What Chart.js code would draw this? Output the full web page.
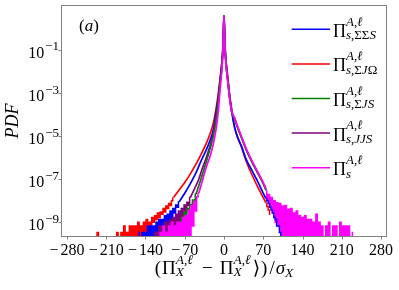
<!DOCTYPE html>
<html>
<head>
<meta charset="utf-8">
<script src="https://cdn.jsdelivr.net/npm/chart.js@4.4.1/dist/chart.umd.min.js"></script>
<style>
  html, body { margin: 0; padding: 0; background: #fff; }
</style>
</head>
<body>
<canvas id="pdfChart" width="399" height="290"></canvas>
<script>
// Core of each PDF as log10 values on a shared x grid.
const xCore = [-90, -80, -70, -60, -50, -45, -40, -31, -25, -19, -14, -10, -6.5, -4, -2, -1, 0,
               1, 2, 4, 6.5, 10, 14, 19, 25, 31, 40, 50, 60, 70, 75];

const logBlue = [null, -8.05, -7.65, -7.2, -6.7, -6.4, -6.1, -5.6, -5.2, -4.7, -3.9, -3.15, -2.3, -1.7, -0.95, -0.2, 0.6,
                 -0.2, -0.95, -1.7, -2.3, -3.15, -3.9, -4.6, -5.1, -5.45, -6.1, -6.6, -7.1, -7.65, -7.9];
const logRed = [-7.85, -7.5, -7.15, -6.75, -6.3, -6.05, -5.8, -5.3, -4.9, -4.4, -3.7, -3.0, -2.2, -1.6, -0.9, -0.2, 0.6,
                -0.2, -0.9, -1.6, -2.2, -3.05, -3.8, -4.6, -5.1, -5.5, -6.2, -6.8, -7.35, -7.85, -8.1];
const logGreen = [null, null, null, null, -7.7, -7.3, -6.9, -6.15, -5.6, -5.0, -4.25, -3.4, -2.45, -1.85, -1.0, -0.25, 0.6,
                  -0.25, -1.0, -1.75, -2.35, -3.2, -3.9, -4.2, -4.65, -5.05, -5.65, -6.2, -6.7, -7.2, -7.5];
const logPurple = [null, null, null, -7.85, -7.3, -7.0, -6.6, -5.95, -5.45, -4.85, -4.1, -3.3, -2.4, -1.8, -1.0, -0.25, 0.6,
                   -0.25, -1.0, -1.75, -2.35, -3.2, -3.9, -4.2, -4.65, -5.05, -5.65, -6.2, -6.7, -7.2, -7.5];
const logMagenta = [null, null, null, null, null, -7.65, -7.2, -6.4, -5.95, -5.35, -4.65, -3.8, -2.7, -2.0, -1.1, -0.3, 0.6,
                    -0.3, -1.05, -1.8, -2.4, -3.25, -3.85, -4.15, -4.6, -5.0, -5.6, -6.15, -6.65, -7.15, -7.45];

// Noisy tails: histogram counts per bin, 1 count = smallest non-empty bin.
const binWidth = 2.5;
const countUnit = 3.4e-10;
const redLeftStart = -230;
const redLeftCounts = [0,0,1,0,0,0,0,0,0,0, 0,0,0,0,0,0,1,0,0,1, 0,2,0,1,0,2,0,2,0,2,
                       0,3,0,2,0,3,1,4,1,3, 2,5,3,6,4,8,5,9,7,13, 9,17,13,22,18,30,40];
const blueLeftStart = -152.5;
const blueLeftCounts = [1,0,0,1,0,1,0,2,0,2, 0,2,0,3,0,4,0,4,0,6, 1,7,2,10,4,13,8,19,15,26];
const purpleLeftStart = -125;
const purpleLeftCounts = [1,0,1,0,2,0,2,0,3,0, 3,0,4,0,5,0,7,1,10,3, 13,5,19,9,25,18,42];
const greenLeftStart = -95;
const greenLeftCounts = [1,0,1,0,2,1,3,2,5,4, 9,7,13,11,20,18,32,30,59];
const magentaLeftStart = -115;
const magentaLeftCounts = [0,1,0,2,0,1,0,2,0,3, 0,2,0,3,0,3,0,5,0,6, 0,11,0,18,2,28,10,45,66];
const magentaRightStart = 75;
const magentaRightCounts = [85,32,58,17,42,8,30,3,24,2, 22,0,17,0,18,0,12,0,13,0,
                            8,0,10,0,6,0,5,0,6,0, 4,0,4,0,3,0,7,0,3,0,
                            2,0,0,2,0,3,0,0,2,0, 2,0,0,3,0,2,0,2,0,2, 0,0,1];
const blueRightStart = 75;
const blueRightCounts = [37,30,22,15,11,8,5,4,2,2,1,0];
const redRightStart = 75;
const redRightCounts = [22,16,11,7];

const xTickValues = [-280, -210, -140, -70, 0, 70, 140, 210, 280];
const yTickExponents = [-1, -3, -5, -7, -9];
const legendSubs = ['s,ΣΣS', 's,ΣJΩ', 's,ΣJS', 's,JJS', 's'];

const colors = { blue: '#0000ff', red: '#ff0000', green: '#008000', purple: '#800080', magenta: '#ff00ff' };
const legendColors = [colors.blue, colors.red, colors.green, colors.purple, colors.magenta];
const SERIF = '"Liberation Serif", "DejaVu Serif", serif';

function coreData(logs) {
  return xCore.map((x, i) => ({ x: x, y: logs[i] === null ? null : Math.pow(10, logs[i]) }));
}
function tailData(start, counts) {
  // empty bins go far below the axis so the line drops to the bottom, as in the figure
  return counts.map((c, i) => ({ x: start + i * binWidth, y: c > 0 ? c * countUnit : 1e-12 }));
}
function coreSet(logs, color) {
  return { data: coreData(logs), borderColor: color, backgroundColor: color, borderWidth: 1.7,
           pointRadius: 0, fill: false, cubicInterpolationMode: 'monotone', clip: 0 };
}
function tailSet(start, counts, color) {
  return { data: tailData(start, counts), borderColor: color, backgroundColor: color, borderWidth: 1.5,
           pointRadius: 0, stepped: 'middle', fill: false, clip: 0 };
}

// draw text char by char: latin letters and sigma in italic, the rest upright
function runText(ctx, str, size, x, y, draw) {
  let cx = x;
  for (const ch of str) {
    const it = /[A-Za-zσℓ]/.test(ch);
    const fam = ch === '⟩' ? '"DejaVu Serif", serif' : SERIF;
    ctx.font = (it ? 'italic ' : '') + size + 'px ' + fam;
    if (draw) ctx.fillText(ch, cx, y);
    cx += ctx.measureText(ch).width;
  }
  return cx - x;
}
function runMath(ctx, items, x, y, draw) {
  let cx = x;
  for (const it of items) {
    if (it.gap !== undefined) { cx += it.gap; continue; }
    if (it.sup !== undefined || it.sub !== undefined) {
      let w = 0;
      if (it.sup) w = Math.max(w, runText(ctx, it.sup, it.size, cx, y + it.supDy, draw));
      if (it.sub) w = Math.max(w, runText(ctx, it.sub, it.size, cx, y + it.subDy, draw));
      cx += w;
      continue;
    }
    cx += runText(ctx, it.t, it.size, cx, y, draw);
  }
  return cx - x;
}

const axesPlugin = {
  id: 'axesPlugin',
  afterDraw(chart) {
    const ctx = chart.ctx, a = chart.chartArea;
    const xs = chart.scales.x, ys = chart.scales.y;
    ctx.save();
    ctx.strokeStyle = '#808080';
    ctx.lineWidth = 1;
    ctx.strokeRect(a.left + 0.5, a.top + 0.5, a.right - a.left - 1, a.bottom - a.top - 1);

    ctx.fillStyle = '#000';
    ctx.textAlign = 'left';
    ctx.textBaseline = 'alphabetic';
    xTickValues.forEach(v => {
      const px = xs.getPixelForValue(v);
      const tx = Math.round(px) + 0.5;
      ctx.beginPath(); ctx.moveTo(tx, a.bottom); ctx.lineTo(tx, a.bottom + 2.5); ctx.stroke();
      ctx.font = '16px ' + SERIF;
      const digits = String(Math.abs(v));
      const wd = ctx.measureText(digits).width;
      const wm = v < 0 ? ctx.measureText('−').width + 2 : 0;
      const x0 = px - (wd + wm) / 2;
      if (v < 0) ctx.fillText('−', x0, 255);
      ctx.fillText(digits, x0 + wm, 255);
    });

    yTickExponents.forEach(e => {
      const py = ys.getPixelForValue(Math.pow(10, e));
      const ty = Math.round(py) + 0.5;
      ctx.beginPath(); ctx.moveTo(a.left - 2.5, ty); ctx.lineTo(a.left, ty); ctx.stroke();
      const sup = '−' + Math.abs(e);
      ctx.font = '13px ' + SERIF;
      const ws = ctx.measureText(sup).width;
      ctx.font = '16px ' + SERIF;
      const wt = ctx.measureText('10').width;
      const xr = 59;
      ctx.fillText('10', xr - ws - 1 - wt, py + 8);
      ctx.font = '13px ' + SERIF;
      ctx.fillText(sup, xr - ws, py + 0.5);
    });

    // y title
    ctx.save();
    ctx.translate(18, (a.top + a.bottom) / 2);
    ctx.rotate(-Math.PI / 2);
    ctx.textAlign = 'center';
    ctx.font = 'italic 18px ' + SERIF;
    ctx.fillText('PDF', 0, 0);
    ctx.restore();

    // x title
    const xTitle = [
      { t: '(', size: 19 }, { gap: 1 }, { t: 'Π', size: 19 },
      { sup: 'A,ℓ', sub: 'X', size: 13.5, supDy: -10, subDy: 2 },
      { gap: 9 }, { t: '−', size: 19 }, { gap: 7 },
      { t: 'Π', size: 19 },
      { sup: 'A,ℓ', sub: 'X', size: 13.5, supDy: -10, subDy: 2 },
      { gap: 2 }, { t: '⟩', size: 19 }, { gap: 1 }, { t: ')', size: 19 }, { gap: 2 }, { t: '/', size: 19 },
      { gap: 1 }, { t: 'σ', size: 19 }, { sub: 'X', size: 13.5, subDy: 3 }
    ];
    const tw = runMath(ctx, xTitle, 0, 0, false);
    runMath(ctx, xTitle, (a.left + a.right) / 2 - tw / 2, 274, true);

    // panel tag
    const tag = [{ t: '(a)', size: 17 }];
    const gw = runMath(ctx, tag, 0, 0, false);
    runMath(ctx, tag, 89 - gw / 2, 31, true);

    // legend
    legendSubs.forEach((sub, i) => {
      const ly = 29.3 + i * 34.6;
      ctx.strokeStyle = legendColors[i];
      ctx.lineWidth = 1.5;
      ctx.beginPath(); ctx.moveTo(291.7, ly); ctx.lineTo(330, ly); ctx.stroke();
      ctx.fillStyle = '#000';
      runMath(ctx, [{ t: 'Π', size: 18 }, { sup: 'A,ℓ', sub: sub, size: 13, supDy: -11.2, subDy: 2.5 }],
              333, ly + 7.4, true);
    });
    ctx.restore();
  }
};

new Chart(document.getElementById('pdfChart').getContext('2d'), {
  type: 'line',
  data: {
    datasets: [
      tailSet(redRightStart, redRightCounts, colors.red),
      tailSet(blueRightStart, blueRightCounts, colors.blue),
      coreSet(logMagenta, colors.magenta),
      tailSet(magentaLeftStart, magentaLeftCounts, colors.magenta),
      tailSet(magentaRightStart, magentaRightCounts, colors.magenta),
      coreSet(logGreen, colors.green),
      tailSet(greenLeftStart, greenLeftCounts, colors.green),
      coreSet(logPurple, colors.purple),
      tailSet(purpleLeftStart, purpleLeftCounts, colors.purple),
      coreSet(logBlue, colors.blue),
      tailSet(blueLeftStart, blueLeftCounts, colors.blue),
      coreSet(logRed, colors.red),
      tailSet(redLeftStart, redLeftCounts, colors.red)
    ]
  },
  options: {
    responsive: false,
    animation: false,
    layout: { padding: { left: 61, right: 12, top: 5, bottom: 53 } },
    plugins: { legend: { display: false }, tooltip: { enabled: false } },
    scales: {
      x: { type: 'linear', min: -290.5, max: 290.5, bounds: 'data', display: false },
      y: { type: 'logarithmic', min: 2.1e-10, max: 12.25, bounds: 'data', display: false }
    }
  },
  plugins: [axesPlugin]
});
</script>
</body>
</html>
